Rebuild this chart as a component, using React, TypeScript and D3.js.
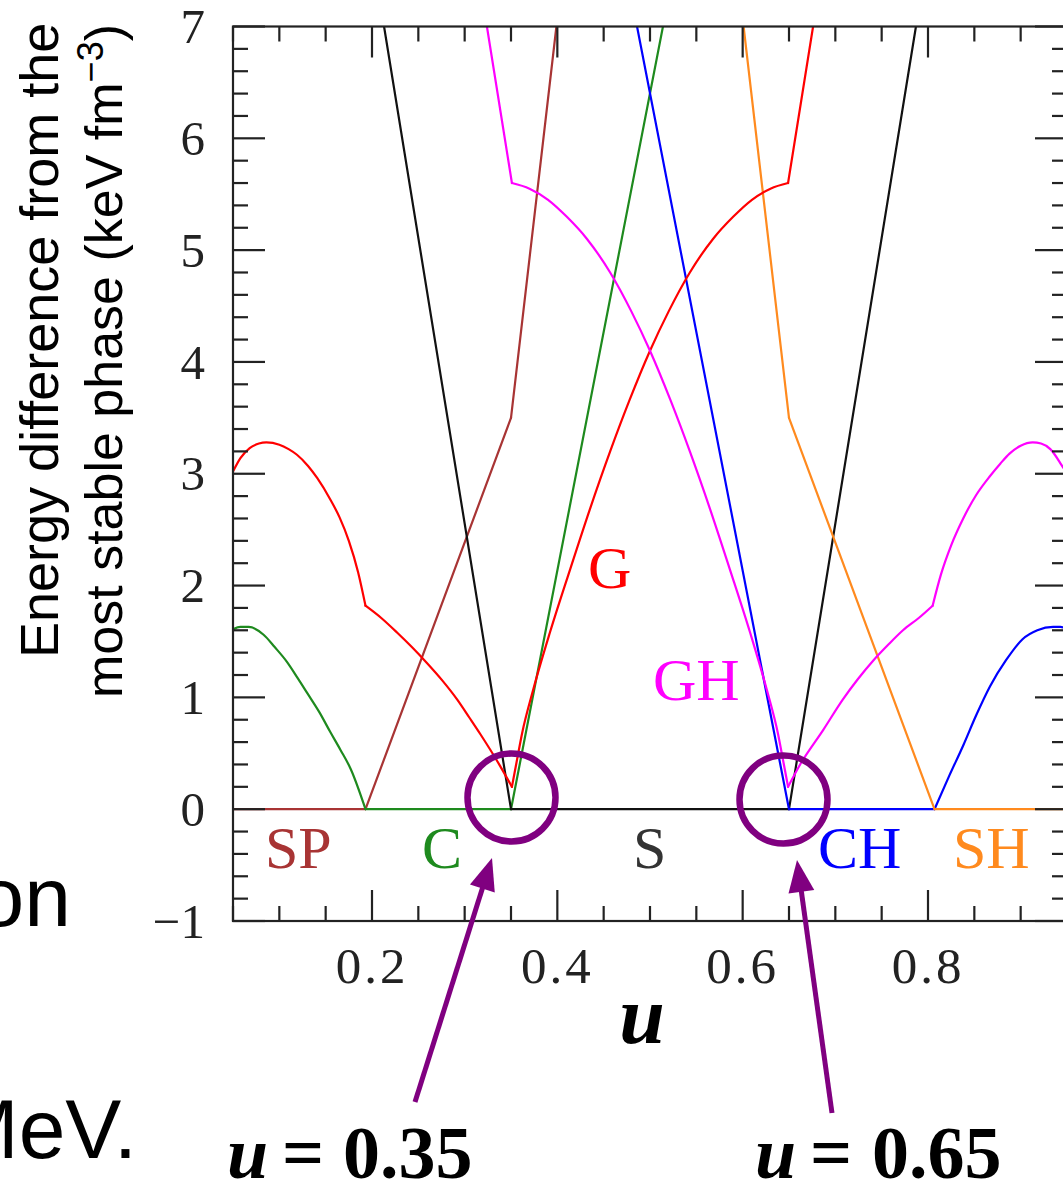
import * as d3 from 'd3';
import { useEffect, useRef } from 'react';

type Pt = [number, number];

// energy difference (keV fm^-3) vs volume fraction u.
// each phase is a list of pieces; pieces meet at the kinks of the curve
const spPieces: Pt[][] = [
  [[0.05, 0], [0.193, 0]],
  [[0.193, 0], [0.35, 3.5]],
  [[0.35, 3.5], [0.399, 7]],
];
const cPieces: Pt[][] = [
  [[0.05, 1.61], [0.058, 1.63], [0.067, 1.63], [0.083, 1.56], [0.095, 1.45], [0.108, 1.32],
    [0.12, 1.17], [0.13, 1.04], [0.143, 0.87], [0.155, 0.69], [0.166, 0.53], [0.177, 0.36], [0.193, 0]],
  [[0.193, 0], [0.35, 0]],
  [[0.35, 0], [0.514, 7]],
];
const sPieces: Pt[][] = [
  [[0.213, 7], [0.35, 0]],
  [[0.35, 0], [0.65, 0]],
  [[0.65, 0], [0.787, 7]],
];
const chPieces: Pt[][] = [
  [[0.486, 7], [0.65, 0]],
  [[0.65, 0], [0.807, 0]],
  [[0.807, 0], [0.823, 0.3], [0.838, 0.57], [0.852, 0.84], [0.867, 1.1], [0.884, 1.33],
    [0.902, 1.52], [0.918, 1.6], [0.935, 1.63], [0.943, 1.63], [0.95, 1.61]],
];
const shPieces: Pt[][] = [
  [[0.601, 7], [0.65, 3.5]],
  [[0.65, 3.5], [0.807, 0]],
  [[0.807, 0], [0.95, 0]],
];
const gPieces: Pt[][] = [
  [[0.05, 3.02], [0.058, 3.14], [0.068, 3.23], [0.078, 3.27], [0.086, 3.28], [0.1, 3.26],
    [0.11, 3.22], [0.119, 3.17], [0.131, 3.07], [0.141, 2.96], [0.155, 2.77], [0.165, 2.61],
    [0.175, 2.4], [0.185, 2.12], [0.193, 1.82]],
  [[0.193, 1.82], [0.21, 1.71], [0.227, 1.58], [0.243, 1.45], [0.259, 1.31], [0.276, 1.15],
    [0.292, 0.98], [0.305, 0.82], [0.317, 0.67], [0.338, 0.39], [0.351, 0.2]],
  [[0.351, 0.2], [0.356, 0.42], [0.362, 0.68], [0.374, 1.07], [0.392, 1.58], [0.414, 2.15],
    [0.435, 2.68], [0.457, 3.2], [0.478, 3.66], [0.5, 4.1], [0.52, 4.45], [0.543, 4.8],
    [0.568, 5.1], [0.59, 5.3], [0.61, 5.45], [0.63, 5.55], [0.649, 5.6]],
  [[0.649, 5.6], [0.676, 7]],
];
const ghPieces: Pt[][] = [
  [[0.324, 7], [0.351, 5.6]],
  [[0.351, 5.6], [0.37, 5.55], [0.39, 5.45], [0.41, 5.3], [0.432, 5.1], [0.457, 4.8],
    [0.48, 4.45], [0.5, 4.1], [0.522, 3.66], [0.543, 3.2], [0.565, 2.68], [0.586, 2.15],
    [0.608, 1.58], [0.626, 1.07], [0.638, 0.68], [0.644, 0.42], [0.649, 0.2]],
  [[0.649, 0.2], [0.662, 0.4], [0.687, 0.71], [0.708, 0.98], [0.724, 1.16], [0.741, 1.33],
    [0.757, 1.47], [0.773, 1.6], [0.79, 1.71], [0.805, 1.82]],
  [[0.805, 1.82], [0.814, 2.1], [0.825, 2.36], [0.838, 2.6], [0.852, 2.81], [0.867, 2.98],
    [0.878, 3.09], [0.888, 3.18], [0.9, 3.25], [0.913, 3.28], [0.922, 3.27], [0.932, 3.22],
    [0.944, 3.08], [0.95, 3.0]],
];

const phases = ['SP', 'C', 'S', 'CH', 'SH', 'G', 'GH'];
const phaseColors = ['#a83434', '#1e8a1e', '#111111', '#0000ff', '#ff8a1e', '#ff0000', '#ff00ff'];
const phasePieces = [spPieces, cPieces, sPieces, chPieces, shPieces, gPieces, ghPieces];

const xMajorTicks = [0.2, 0.4, 0.6, 0.8];
const xTickLabels = ['0.2', '0.4', '0.6', '0.8'];
const yMajorTicks = [-1, 0, 1, 2, 3, 4, 5, 6, 7];
const yTickLabels = ['\u22121', '0', '1', '2', '3', '4', '5', '6', '7'];

const markedLabels = ['0.35', '0.65'];

export default function App() {
  const ref = useRef<SVGSVGElement | null>(null);

  useEffect(() => {
    if (!ref.current) return;
    const svg = d3.select(ref.current);
    svg.selectAll('*').remove();

    const width = 1063;
    const height = 1185;
    const x = d3.scaleLinear().domain([0.05, 0.95]).range([233, 1067]);
    const y = d3.scaleLinear().domain([-1, 7]).range([921, 26.5]);
    const [x0, x1] = x.range();
    const [y0, y1] = y.range();

    svg.attr('width', width).attr('height', height);
    svg.append('rect').attr('width', width).attr('height', height).attr('fill', '#fff');

    svg.append('defs').append('clipPath').attr('id', 'plot-clip')
      .append('rect')
      .attr('x', x0).attr('y', y1)
      .attr('width', x1 - x0).attr('height', y0 - y1);

    // curves
    const line = d3.line<Pt>().x(d => x(d[0])).y(d => y(d[1])).curve(d3.curveMonotoneX);
    const curves = svg.append('g').attr('clip-path', 'url(#plot-clip)');
    phasePieces.forEach((pieces, i) => {
      pieces.forEach(pts => {
        curves.append('path')
          .datum(pts)
          .attr('d', line)
          .attr('fill', 'none')
          .attr('stroke', phaseColors[i])
          .attr('stroke-width', 2.2)
          .attr('stroke-linejoin', 'round')
          .attr('stroke-linecap', 'round');
      });
    });

    // frame and inward ticks
    const axes = svg.append('g').attr('stroke', '#222').attr('stroke-width', 2.2);
    axes.append('rect')
      .attr('x', x0).attr('y', y1)
      .attr('width', x1 - x0).attr('height', y0 - y1)
      .attr('fill', 'none');

    const xMinor = d3.range(0.05, 0.951, 0.05).filter(v => !xMajorTicks.some(m => Math.abs(m - v) < 1e-6));
    const yMinor = d3.range(-1, 7.001, 0.2).filter(v => Math.abs(v - Math.round(v)) > 1e-6);

    const xTicks = [
      ...xMajorTicks.map(v => ({ v, len: 31 })),
      ...xMinor.map(v => ({ v, len: 15 })),
    ];
    xTicks.forEach(t => {
      axes.append('line').attr('x1', x(t.v)).attr('x2', x(t.v)).attr('y1', y0).attr('y2', y0 - t.len);
      axes.append('line').attr('x1', x(t.v)).attr('x2', x(t.v)).attr('y1', y1).attr('y2', y1 + t.len);
    });
    const yTicks = [
      ...yMajorTicks.map(v => ({ v, len: 32 })),
      ...yMinor.map(v => ({ v, len: 15 })),
    ];
    yTicks.forEach(t => {
      axes.append('line').attr('y1', y(t.v)).attr('y2', y(t.v)).attr('x1', x0).attr('x2', x0 + t.len);
      axes.append('line').attr('y1', y(t.v)).attr('y2', y(t.v)).attr('x1', x1).attr('x2', x1 - t.len);
    });

    const serif = '"Liberation Serif", "DejaVu Serif", serif';
    const sans = '"Liberation Sans", Arial, sans-serif';

    xMajorTicks.forEach((v, i) => {
      svg.append('text')
        .attr('x', x(v)).attr('y', 983)
        .attr('text-anchor', 'middle')
        .attr('font-family', serif).attr('font-size', 51)
        .attr('letter-spacing', 3)
        .attr('fill', '#222')
        .text(xTickLabels[i]);
    });
    yMajorTicks.forEach((v, i) => {
      svg.append('text')
        .attr('x', 205).attr('y', y(v))
        .attr('dy', '0.34em')
        .attr('text-anchor', 'end')
        .attr('font-family', serif).attr('font-size', 49)
        .attr('fill', '#222')
        .text(yTickLabels[i]);
    });

    // phase labels
    const labelPos: Record<string, [number, number]> = {
      SP: [265, 868], C: [422, 868], S: [633, 868], CH: [818, 868], SH: [953, 868],
      G: [588, 588], GH: [653, 700],
    };
    phases.forEach((p, i) => {
      const [lx, ly] = labelPos[p];
      svg.append('text')
        .attr('x', lx).attr('y', ly)
        .attr('font-family', serif).attr('font-size', 60)
        .attr('fill', p === 'S' ? '#333' : phaseColors[i])
        .text(p);
    });

    // axis titles
    svg.append('text')
      .attr('x', 642).attr('y', 1043)
      .attr('text-anchor', 'middle')
      .attr('font-family', serif).attr('font-size', 82)
      .attr('font-weight', 'bold').attr('font-style', 'italic')
      .attr('fill', '#000')
      .text('u');

    const yTitle = svg.append('g').attr('transform', 'rotate(-90)')
      .attr('font-family', sans).attr('fill', '#000');
    yTitle.append('text').attr('x', -658).attr('y', 58).attr('font-size', 54)
      .text('Energy difference from the');
    const l2 = yTitle.append('text').attr('x', -698).attr('y', 122).attr('font-size', 52);
    l2.append('tspan').text('most stable phase (keV fm');
    l2.append('tspan').attr('font-size', 36).attr('dy', -19).text('\u22123');
    l2.append('tspan').attr('dy', 19).text(')');

    // slide text cut at the left edge
    svg.append('text').attr('x', 71).attr('y', 926)
      .attr('text-anchor', 'end').attr('font-family', sans).attr('font-size', 84)
      .attr('fill', '#000').text('on');
    svg.append('text').attr('x', 137).attr('y', 1158)
      .attr('text-anchor', 'end').attr('font-family', sans).attr('font-size', 84)
      .attr('fill', '#000').text('MeV.');

    // annotations: circles, arrows, u values
    const purple = '#800080';
    const circles = [[511.5, 797.5], [783.5, 799.5]];
    circles.forEach(([cx, cy]) => {
      svg.append('circle').attr('cx', cx).attr('cy', cy).attr('r', 44)
        .attr('fill', 'none').attr('stroke', purple).attr('stroke-width', 6.5);
    });

    const arrows = [
      { from: [415, 1102], to: [492, 858] },
      { from: [832, 1113], to: [797, 860] },
    ];
    arrows.forEach(({ from, to }) => {
      const dx = to[0] - from[0];
      const dy = to[1] - from[1];
      const len = Math.hypot(dx, dy);
      const ux = dx / len;
      const uy = dy / len;
      const headLen = 32;
      const headHalf = 13;
      const bx = to[0] - ux * headLen;
      const by = to[1] - uy * headLen;
      svg.append('line')
        .attr('x1', from[0]).attr('y1', from[1])
        .attr('x2', bx + ux * 2).attr('y2', by + uy * 2)
        .attr('stroke', purple).attr('stroke-width', 5);
      svg.append('path')
        .attr('d', `M${to[0]},${to[1]}L${bx - uy * headHalf},${by + ux * headHalf}L${bx + uy * headHalf},${by - ux * headHalf}Z`)
        .attr('fill', purple);
    });

    const uLabelX = [[227, 282, 343], [755, 810, 872]];
    markedLabels.forEach((label, i) => {
      const [ux, ex, vx] = uLabelX[i];
      const t = svg.append('text').attr('y', 1178)
        .attr('font-family', serif).attr('font-size', 74)
        .attr('font-weight', 'bold').attr('fill', '#000');
      t.append('tspan').attr('x', ux).attr('font-style', 'italic').text('u');
      t.append('tspan').attr('x', ex).text('=');
      t.append('tspan').attr('x', vx).text(label);
    });
  }, []);

  return (
    <svg
      ref={ref}
      style={{ position: 'absolute', left: 0, top: 0, display: 'block' }}
      viewBox="0 0 1063 1185"
    />
  );
}
